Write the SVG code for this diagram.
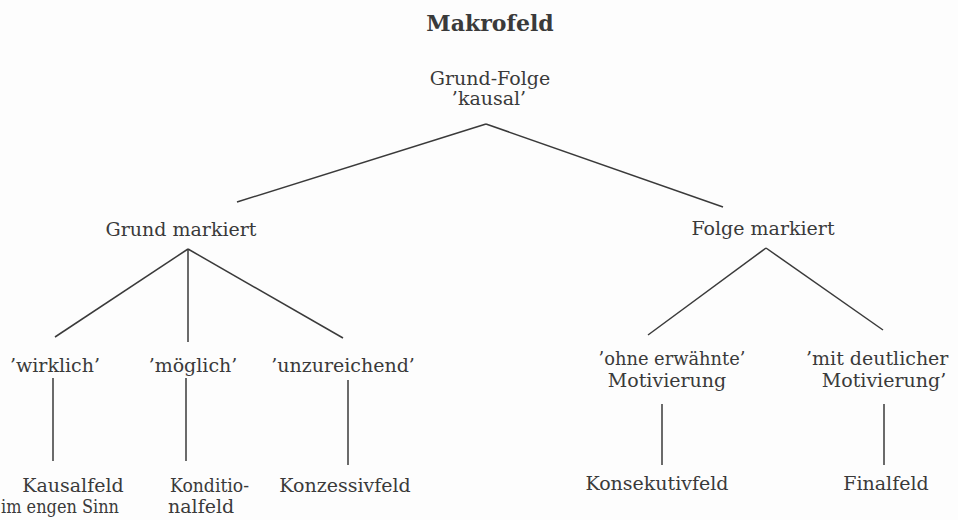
<svg xmlns="http://www.w3.org/2000/svg" width="958" height="520" viewBox="0 0 958 520">
<style>
text{font-family:"DejaVu Serif","Liberation Serif",serif;font-size:19px;fill:#3a3a3a;text-anchor:middle}
.t{font-weight:bold;font-size:22px}
.s{text-anchor:start}
.c line{stroke:#3a3a3a;stroke-width:1.5;fill:none}
</style>
<rect width="958" height="520" fill="#fdfdfd"/>
<g id="title"><text class="t" x="490" y="31">Makrofeld</text></g>
<g id="root"><text x="490" y="85">Grund-Folge</text><text x="489" y="105">’kausal’</text></g>
<g id="grund"><text x="181" y="236">Grund  markiert</text></g>
<g id="folge"><text x="763" y="235">Folge  markiert</text></g>
<g id="wirklich"><text x="55" y="372">’wirklich’</text></g>
<g id="moeglich"><text x="193" y="372">’möglich’</text></g>
<g id="unzureichend"><text x="343" y="372">’unzureichend’</text></g>
<g id="ohne"><text x="672" y="365" textLength="147" lengthAdjust="spacingAndGlyphs">’ohne erwähnte’</text><text x="667" y="387">Motivierung</text></g>
<g id="mit"><text class="s" x="806" y="365">’mit deutlicher</text><text x="884" y="387">Motivierung’</text></g>
<g id="kausalfeld"><text x="73" y="492">Kausalfeld</text><text class="s" x="1" y="513" textLength="118" lengthAdjust="spacingAndGlyphs">im engen Sinn</text></g>
<g id="konditionalfeld"><text class="s" x="170" y="492" textLength="79" lengthAdjust="spacingAndGlyphs">Konditio-</text><text class="s" x="168" y="513">nalfeld</text></g>
<g id="konzessivfeld"><text x="345" y="492">Konzessivfeld</text></g>
<g id="konsekutivfeld"><text x="657" y="490">Konsekutivfeld</text></g>
<g id="finalfeld"><text x="886" y="490">Finalfeld</text></g>
<g id="connectors" class="c">
<line x1="486" y1="124" x2="237" y2="202"/>
<line x1="486" y1="124" x2="723" y2="207"/>
<line x1="188" y1="249" x2="55" y2="337"/>
<line x1="188" y1="249" x2="188" y2="342"/>
<line x1="188" y1="249" x2="343" y2="338"/>
<line x1="766" y1="248" x2="648" y2="335"/>
<line x1="766" y1="248" x2="883" y2="330"/>
<line x1="53" y1="378" x2="53" y2="461"/>
<line x1="186" y1="378" x2="186" y2="461"/>
<line x1="348" y1="380" x2="348" y2="465"/>
<line x1="662" y1="404" x2="662" y2="465"/>
<line x1="884" y1="404" x2="884" y2="465"/>
</g>
</svg>
